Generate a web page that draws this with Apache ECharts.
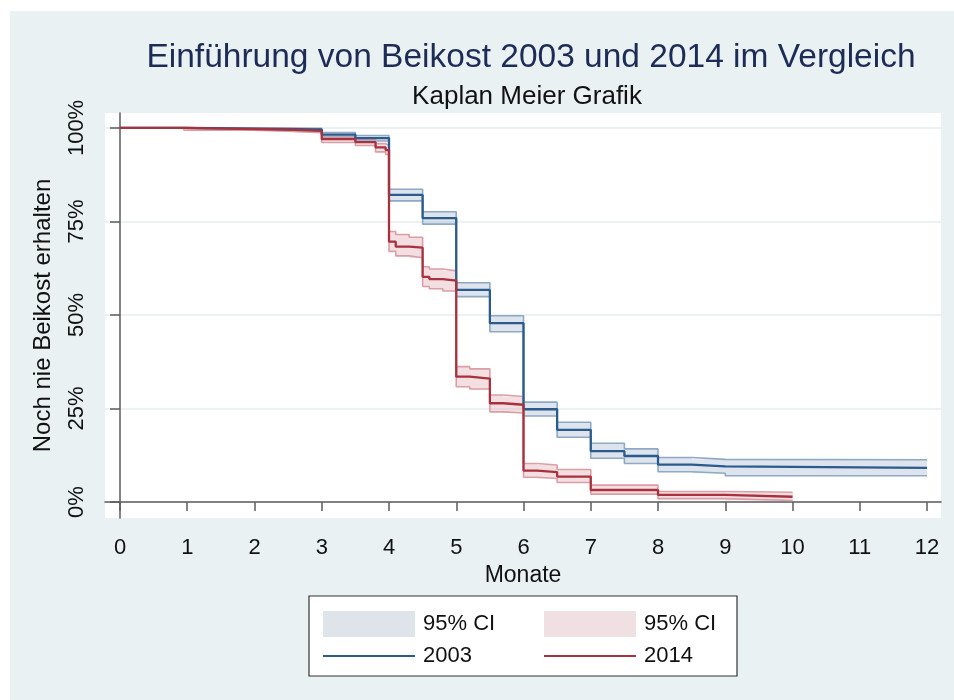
<!DOCTYPE html>
<html>
<head>
<meta charset="utf-8">
<script src="https://cdn.jsdelivr.net/npm/echarts@6/dist/echarts.min.js"></script>
<style>
  html, body { margin: 0; padding: 0; background: #fff; }
  #wrap { position: relative; width: 954px; height: 700px; }
  #panel { position: absolute; left: 10px; top: 11px; width: 944px; height: 689px; background: #e9f1f2; }
  #chart { position: absolute; left: 0; top: 0; width: 954px; height: 700px; }
</style>
</head>
<body>
<div id="wrap"><div id="panel"></div><div id="chart"></div></div>
<script>
// Kaplan-Meier survival: share of infants who have not yet received complementary food (%)
// 2003 cohort: step times (months), estimate, and 95% confidence limits
const months2003 = [0, 1, 2, 3, 3.5, 4, 4.5, 5, 5.5, 6, 6.5, 7, 7.5, 8, 8.5, 9, 12];
const surv2003   = [100, 99.8, 99.6, 98.2, 97.3, 82.1, 75.9, 56.7, 47.8, 24.8, 19.3, 13.6, 12.3, 10.0, 9.5, 9.1, 9.1];
const upper2003  = [100, 100, 99.9, 98.8, 98.0, 83.6, 77.6, 58.6, 49.8, 26.7, 21.3, 15.7, 14.2, 11.9, 11.4, 11.3, 11.3];
const lower2003  = [100, 99.5, 99.2, 97.5, 96.5, 80.5, 74.3, 54.9, 45.5, 23.0, 17.3, 11.7, 10.3, 8.1, 7.7, 7.0, 7.0];

// 2014 cohort
const months2014 = [0, 0.95, 2, 2.6, 3, 3.5, 3.8, 3.95, 4, 4.1, 4.3, 4.5, 4.6, 4.8, 5, 5.2, 5.5, 5.7, 6, 6.2, 6.5, 7, 8, 9, 10];
const surv2014   = [100, 99.7, 99.5, 99.2, 97.0, 96.2, 94.8, 94.1, 69.6, 68.3, 68.0, 60.2, 59.6, 59.2, 33.5, 33.0, 26.4, 26.0, 8.4, 8.0, 6.8, 3.2, 1.9, 1.4, 1.4];
const upper2014  = [100, 100, 99.9, 99.7, 97.7, 97.0, 95.8, 95.3, 72.3, 71.5, 70.8, 62.9, 62.3, 61.8, 36.2, 35.6, 28.6, 28.2, 10.3, 9.9, 8.7, 4.5, 2.8, 2.6, 2.6];
const lower2014  = [100, 99.4, 99.1, 98.7, 96.1, 95.3, 93.6, 92.9, 67.0, 65.8, 65.3, 57.6, 57.0, 56.4, 30.8, 30.2, 24.1, 23.8, 6.6, 6.3, 5.2, 2.1, 0.9, 0.4, 0.4];

// Axis ticks
const monthTicks = [0, 1, 2, 3, 4, 5, 6, 7, 8, 9, 10, 11, 12];
const percentTicks = [0, 25, 50, 75, 100];

const FONT = "'Liberation Sans', Arial, Helvetica, sans-serif";
const BLUE = '#2a5b8c', RED = '#a9313d';
const BLUE_CI_LINE = '#8fa8c4', RED_CI_LINE = '#d99ea6';
const BLUE_CI_BAND = 'rgba(143,166,196,0.30)', RED_CI_BAND = 'rgba(214,150,160,0.30)';
const BLUE_CI_SWATCH = '#dfe4eb', RED_CI_SWATCH = '#f0e0e2';

// Right-continuous step function: each value holds until the next event time
function stepPoints(xs, ys) {
  const pts = [[xs[0], ys[0]]];
  for (let i = 1; i < xs.length; i++) {
    pts.push([xs[i], ys[i - 1]]);
    if (ys[i] !== ys[i - 1]) pts.push([xs[i], ys[i]]);
  }
  return pts;
}

// Shaded confidence band: one rectangle per step interval [x_i, x_i+1] x [lower_i, upper_i]
function bandSeries(name, xs, lo, hi, fill) {
  const data = xs.slice(0, -1).map((x, i) => [x, xs[i + 1], lo[i], hi[i]]);
  return {
    name: name, type: 'custom', z: 1, silent: true,
    encode: { x: [0, 1], y: [2, 3] },
    data: data,
    renderItem: function (params, api) {
      const a = api.coord([api.value(0), api.value(3)]);
      const b = api.coord([api.value(1), api.value(2)]);
      const x0 = Math.round(a[0]), x1 = Math.round(b[0]);
      return {
        type: 'rect',
        shape: { x: x0, y: a[1], width: x1 - x0, height: b[1] - a[1] },
        style: { fill: fill }
      };
    }
  };
}

function boundSeries(name, xs, ys, color) {
  return {
    name: name, type: 'line', symbol: 'none', showSymbol: false,
    z: 2, silent: true,
    lineStyle: { color: color, width: 1.6 },
    data: stepPoints(xs, ys)
  };
}

function kmSeries(name, xs, ys, color) {
  return {
    name: name, type: 'line', symbol: 'none', showSymbol: false,
    z: 3, silent: true, color: color,
    lineStyle: { color: color, width: 2.3 },
    data: stepPoints(xs, ys)
  };
}

const LINE_ICON = 'path://M0,0H92V2.2H0Z';
const legendCommon = {
  orient: 'vertical', itemWidth: 92, itemHeight: 26, itemGap: 8,
  selectedMode: false, symbolKeepAspect: true,
  textStyle: { fontFamily: FONT, fontSize: 22, color: '#111', padding: [0, 0, 0, 3] },
  formatter: n => n.indexOf('CI') === 0 ? '95% CI' : n
};

const chart = echarts.init(document.getElementById('chart'), null, { renderer: 'canvas' });
chart.setOption({
  animation: false,
  textStyle: { fontFamily: FONT },
  title: [
    { text: 'Einführung von Beikost 2003 und 2014 im Vergleich', left: 526, top: 36, textAlign: 'center',
      textStyle: { fontFamily: FONT, fontSize: 33.5, fontWeight: 'normal', color: '#1d2b57' } },
    { text: 'Kaplan Meier Grafik', left: 522, top: 79, textAlign: 'center',
      textStyle: { fontFamily: FONT, fontSize: 26, fontWeight: 'normal', color: '#111' } }
  ],
  graphic: [
    { type: 'rect', shape: { x: 309, y: 596, width: 428, height: 80 },
      style: { fill: '#fff', stroke: '#333', lineWidth: 1.2 }, z: 1, silent: true }
  ],
  legend: [
    Object.assign({}, legendCommon, { left: 318, top: 606, data: [
      { name: 'CI 2003', icon: 'rect', itemStyle: { color: BLUE_CI_SWATCH, borderWidth: 0 } },
      { name: '2003', icon: LINE_ICON, itemStyle: { color: BLUE, borderWidth: 0 } }] }),
    Object.assign({}, legendCommon, { left: 539, top: 606, data: [
      { name: 'CI 2014', icon: 'rect', itemStyle: { color: RED_CI_SWATCH, borderWidth: 0 } },
      { name: '2014', icon: LINE_ICON, itemStyle: { color: RED, borderWidth: 0 } }] })
  ],
  grid: { left: 105, top: 113, width: 836, height: 405, show: true, backgroundColor: '#fff', borderWidth: 0 },
  xAxis: {
    type: 'value', min: -0.223, max: 12.208,
    name: 'Monate', nameLocation: 'middle', nameGap: 44,
    nameTextStyle: { fontFamily: FONT, fontSize: 23, color: '#111' },
    axisLine: { show: true, lineStyle: { color: '#5c5c5c', width: 1.5 } },
    axisTick: { show: true, length: 9, customValues: monthTicks, lineStyle: { color: '#5c5c5c', width: 1.5 } },
    axisLabel: { customValues: monthTicks, fontSize: 22, color: '#111', margin: 19, fontFamily: FONT },
    splitLine: { show: false }
  },
  yAxis: {
    type: 'value', min: -4.28, max: 104.0,
    name: 'Noch nie Beikost erhalten', nameLocation: 'middle', nameGap: 50,
    nameTextStyle: { fontFamily: FONT, fontSize: 24, color: '#111' },
    axisLine: { show: true, lineStyle: { color: '#5c5c5c', width: 1.5 } },
    axisTick: { show: true, length: 10, customValues: percentTicks, lineStyle: { color: '#5c5c5c', width: 1.5 } },
    axisLabel: { customValues: percentTicks, rotate: 90, formatter: '{value}%', fontSize: 22, color: '#111', margin: 17, fontFamily: FONT },
    splitLine: { show: true, lineStyle: { color: '#e6eef0', width: 1.5 } }
  },
  series: [
    bandSeries('CI 2003', months2003, lower2003, upper2003, BLUE_CI_BAND),
    bandSeries('CI 2014', months2014, lower2014, upper2014, RED_CI_BAND),
    boundSeries('lower 2003', months2003, lower2003, BLUE_CI_LINE),
    boundSeries('upper 2003', months2003, upper2003, BLUE_CI_LINE),
    boundSeries('lower 2014', months2014, lower2014, RED_CI_LINE),
    boundSeries('upper 2014', months2014, upper2014, RED_CI_LINE),
    kmSeries('2003', months2003, surv2003, BLUE),
    kmSeries('2014', months2014, surv2014, RED)
  ]
});
</script>
</body>
</html>
